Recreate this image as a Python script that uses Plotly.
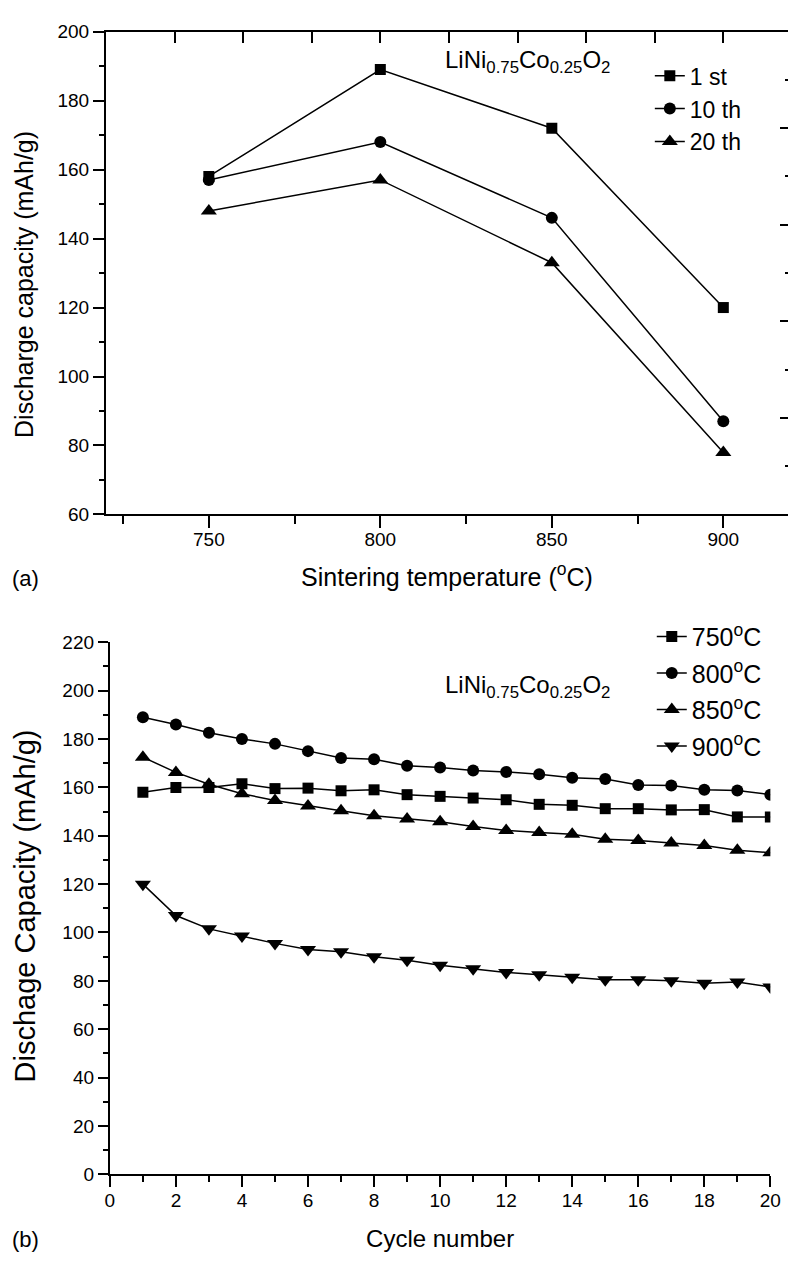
import plotly.graph_objects as go

# ---- data: panel (a), capacity vs. sintering temperature ----
temps = [750, 800, 850, 900]
cap_1st = [158, 189, 172, 120]
cap_10th = [157, 168, 146, 87]
cap_20th = [148, 157, 133, 78]

# ---- data: panel (b), capacity vs. cycle number ----
cycles = list(range(1, 21))
cap_750 = [158, 160, 160, 161.5, 159.5, 159.7, 158.6, 159, 157, 156.3,
           155.6, 154.9, 153, 152.6, 151.2, 151.2, 150.7, 150.8, 147.8, 147.8]
cap_800 = [189, 186, 182.6, 180, 178, 175, 172.2, 171.6, 169, 168.2,
           167, 166.4, 165.4, 164, 163.5, 161, 160.8, 159, 158.7, 157]
cap_850 = [172.5, 166.2, 161.3, 157.4, 154.6, 152.3, 150.3, 148.3, 146.9, 145.8,
           143.8, 142.2, 141.4, 140.6, 138.6, 138, 137, 136, 134, 133]
cap_900 = [120, 107, 101.5, 98.5, 95.5, 93, 92, 90, 88.5, 86.5,
           85, 83.5, 82.5, 81.5, 80.5, 80.5, 80, 79, 79.5, 77.5]

W, H = 799, 1263
FONT = "Liberation Sans, Arial, Helvetica, sans-serif"
BLACK = "#000000"


def px_x(p):
    return p / W


def px_y(p):
    return 1 - p / H


# panel geometry (pixels)
A_LEFT, A_TOP, A_BOTTOM = 103, 22, 513
A_X750, A_X900 = 208, 733
B_LEFT, B_RIGHT, B_TOP, B_BOTTOM = 107, 781, 643, 1184

a_scale = (A_X900 - A_X750) / 150.0
a_xmin = 750 - (A_X750 - A_LEFT) / a_scale
a_xmax = 750 + (W - A_X750) / a_scale

fig = go.Figure()

# panel (a) series
for name, vals, sym, size in [("1 st", cap_1st, "square", 11),
                              ("10 th", cap_10th, "circle", 12),
                              ("20 th", cap_20th, "triangle-up", 14)]:
    fig.add_trace(go.Scatter(
        x=temps, y=vals, name=name, mode="lines+markers",
        line=dict(color=BLACK, width=1.5),
        marker=dict(symbol=sym, size=size, color=BLACK),
        xaxis="x", yaxis="y", legend="legend"))

# panel (b) series
for name, vals, sym, size in [("750<sup>o</sup>C", cap_750, "square", 11),
                              ("800<sup>o</sup>C", cap_800, "circle", 12),
                              ("850<sup>o</sup>C", cap_850, "triangle-up", 14),
                              ("900<sup>o</sup>C", cap_900, "triangle-down", 14)]:
    fig.add_trace(go.Scatter(
        x=cycles, y=vals, name=name, mode="lines+markers",
        line=dict(color=BLACK, width=1.5),
        marker=dict(symbol=sym, size=size, color=BLACK),
        xaxis="x2", yaxis="y2", legend="legend2", legendgroup=name))

# empty trace so the secondary (top / right) frame axes of panel (a) are drawn
fig.add_trace(go.Scatter(x=[], y=[], xaxis="x3", yaxis="y3", showlegend=False,
                         hoverinfo="skip"))

axis_common = dict(showline=True, linecolor=BLACK, linewidth=2, showgrid=False,
                   zeroline=False, tickcolor=BLACK, tickwidth=2,
                   tickfont=dict(family=FONT, size=19, color=BLACK))

fig.update_layout(
    width=W, height=H,
    margin=dict(l=0, r=0, t=0, b=0),
    paper_bgcolor="white", plot_bgcolor="white",
    font=dict(family=FONT, color=BLACK),
    xaxis=dict(axis_common, domain=[px_x(A_LEFT), 1.0], anchor="y",
               range=[a_xmin, a_xmax], tick0=750, dtick=50,
               ticks="outside", ticklen=12, ticklabelstandoff=-5,
               minor=dict(dtick=25, tick0=725, ticks="outside", ticklen=8,
                          tickcolor=BLACK, tickwidth=2),
               title=dict(text="Sintering temperature (<sup>o</sup>C)",
                          font=dict(family=FONT, size=25, color=BLACK), standoff=19)),
    yaxis=dict(axis_common, domain=[px_y(A_BOTTOM), px_y(A_TOP)], anchor="x",
               range=[60, 200], dtick=20, ticks="outside", ticklen=11,
               minor=dict(dtick=10, ticks="outside", ticklen=5,
                          tickcolor=BLACK, tickwidth=2)),
    xaxis3=dict(showline=True, linecolor=BLACK, linewidth=2, showgrid=False,
                zeroline=False, overlaying="x", side="top", anchor="y",
                range=[0, (W - A_LEFT) / 70.0], dtick=1, tick0=0,
                ticks="inside", ticklen=11,
                tickcolor=BLACK, tickwidth=2, showticklabels=False),
    yaxis3=dict(showline=False, showgrid=False, zeroline=False,
                overlaying="y", side="right", anchor="x",
                range=[0, 5 * (A_BOTTOM - A_TOP) / 491.0], dtick=1,
                ticks="inside", ticklen=8,
                tickcolor=BLACK, tickwidth=2, showticklabels=False,
                minor=dict(dtick=0.5, ticks="inside", ticklen=3,
                           tickcolor=BLACK, tickwidth=2)),
    xaxis2=dict(axis_common, domain=[px_x(B_LEFT), px_x(B_RIGHT)], anchor="y2",
                range=[0, 20], dtick=2, ticks="outside", ticklen=11,
                ticklabelstandoff=-3,
                minor=dict(dtick=1, ticks="outside", ticklen=6,
                           tickcolor=BLACK, tickwidth=2),
                title=dict(text="Cycle number",
                           font=dict(family=FONT, size=24, color=BLACK), standoff=20)),
    yaxis2=dict(axis_common, domain=[px_y(B_BOTTOM), px_y(B_TOP)], anchor="x2",
                range=[0, 220], dtick=20, ticks="outside", ticklen=10,
                minor=dict(dtick=10, ticks="outside", ticklen=5,
                           tickcolor=BLACK, tickwidth=2)),
    legend=dict(x=px_x(658), y=px_y(45), xanchor="left", yanchor="top",
                bgcolor="rgba(0,0,0,0)", borderwidth=0,
                font=dict(family=FONT, size=23, color=BLACK)),
    legend2=dict(x=px_x(660), y=px_y(614), xanchor="left", yanchor="top",
                 bgcolor="rgba(0,0,0,0)", borderwidth=0, tracegroupgap=1,
                 font=dict(family=FONT, size=25, color=BLACK)),
    showlegend=True,
)

# vertical axis titles
fig.add_annotation(text="Discharge capacity (mAh/g)", xref="paper", yref="paper",
                   x=px_x(20), y=px_y(279), textangle=-90,
                   xanchor="center", yanchor="middle", showarrow=False,
                   font=dict(family=FONT, size=25, color=BLACK))
fig.add_annotation(text="Dischage Capacity (mAh/g)", xref="paper", yref="paper",
                   x=px_x(20), y=px_y(911), textangle=-90,
                   xanchor="center", yanchor="middle", showarrow=False,
                   font=dict(family=FONT, size=29, color=BLACK))

formula = "LiNi<sub>0.75</sub>Co<sub>0.25</sub>O<sub>2</sub>"
fig.add_annotation(text=formula, xref="paper", yref="paper",
                   x=px_x(447), y=px_y(52), xanchor="left", yanchor="middle",
                   showarrow=False, font=dict(family=FONT, size=24, color=BLACK))
fig.add_annotation(text=formula, xref="paper", yref="paper",
                   x=px_x(447), y=px_y(688), xanchor="left", yanchor="middle",
                   showarrow=False, font=dict(family=FONT, size=24, color=BLACK))

# panel labels
fig.add_annotation(text="(a)", xref="paper", yref="paper",
                   x=px_x(5), y=px_y(578), xanchor="left", yanchor="middle",
                   showarrow=False, font=dict(family=FONT, size=22, color=BLACK))
fig.add_annotation(text="(b)", xref="paper", yref="paper",
                   x=px_x(5), y=px_y(1250), xanchor="left", yanchor="middle",
                   showarrow=False, font=dict(family=FONT, size=22, color=BLACK))

fig.write_html("out.html")
